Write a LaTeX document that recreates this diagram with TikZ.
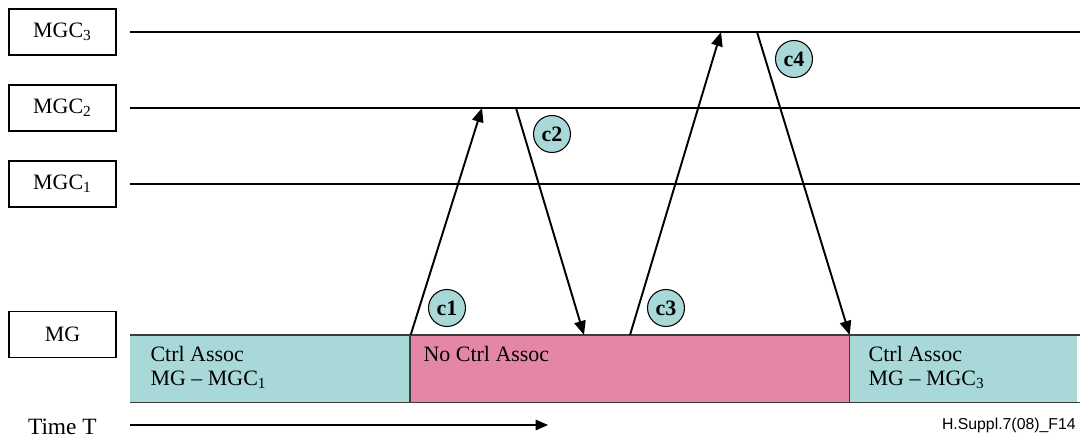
\documentclass[tikz,border=0pt]{standalone}
\usepackage{fontspec}
\setmainfont{Liberation Serif}
\newfontfamily\tagfont{Liberation Sans}
\usepackage{xcolor}
\usepackage{tikz}
\usetikzlibrary{arrows.meta, positioning, calc}
\definecolor{assoccyan}{HTML}{A9D8D9}
\definecolor{noassocpink}{HTML}{E486A7}
\definecolor{bandline}{HTML}{3C3C3C}
\tikzset{
  entity/.style={rectangle, draw=black, line width=0.6pt, fill=white,
    minimum width=2.14cm, minimum height=0.92cm, inner sep=0pt,
    font=\fontsize{12.5}{14}\selectfont},
  lifeline/.style={line width=0.6pt, black},
  band/.style={rectangle, inner sep=0pt, minimum height=1.34cm,
    anchor=north west},
  bandedge/.style={bandline, line width=0.7pt},
  bandtext/.style={anchor=north west, align=left, inner ysep=6pt,
    font=\fontsize{12.5}{13.8}\selectfont},
  msg/.style={-{Triangle[length=8pt, width=6.5pt]}, line width=1.1pt, black},
  tag/.style={circle, draw=black, line width=0.6pt, fill=assoccyan,
    minimum size=0.74cm, inner sep=0pt,
    font=\fontsize{12.5}{14}\selectfont\bfseries},
  timearrow/.style={-{Triangle[length=7pt, width=6pt]}, line width=0.6pt},
}

\begin{document}
\begin{tikzpicture}[x=0.02cm, y=-0.02cm]
  \useasboundingbox (0,0) rectangle (1083,439);

  % entities and their lifelines
  \node[entity] (mgc3) at (62.5,32)  {MGC\textsubscript{3}};
  \node[entity] (mgc2) at (62.5,108) {MGC\textsubscript{2}};
  \node[entity] (mgc1) at (62.5,184) {MGC\textsubscript{1}};
  \node[entity] (mg)   at (62.5,334.5) {MG};

  \coordinate (l3w) at (130,32);  \coordinate (l3e) at (1080,32);
  \coordinate (l2w) at (130,108); \coordinate (l2e) at (1080,108);
  \coordinate (l1w) at (130,184); \coordinate (l1e) at (1080,184);
  \draw[lifeline] (l3w) -- (l3e);
  \draw[lifeline] (l2w) -- (l2e);
  \draw[lifeline] (l1w) -- (l1e);

  % association state of the MG
  \node[band, fill=assoccyan, minimum width=5.6cm]    (ca1)  at (130,335) {};
  \node[band, fill=noassocpink, minimum width=8.78cm] (nocc) at (410,335) {};
  \node[band, fill=assoccyan, minimum width=4.56cm]   (ca3)  at (849,335) {};
  \draw[bandedge] (ca1.north west) -- (l1e |- ca1.north);
  \draw[bandedge] (ca1.south west) -- (l1e |- ca1.south);
  \draw[bandedge] (nocc.north west) -- (nocc.south west);
  \draw[bandedge] (nocc.north east) -- (nocc.south east);

  \node[bandtext, inner xsep=11.5pt] at (ca1.north west) {Ctrl Assoc\\MG -- MGC\textsubscript{1}};
  \node[bandtext, inner xsep=7.5pt]  at (nocc.north west) {No Ctrl Assoc};
  \node[bandtext, inner xsep=11pt]   at (ca3.north west) {Ctrl Assoc\\MG -- MGC\textsubscript{3}};

  % control messages
  \coordinate (c1e) at (482,108);
  \coordinate (c2s) at (516,108);
  \coordinate (c2e) at (584,335);
  \coordinate (c3s) at (630,335);
  \coordinate (c3e) at (721,32);
  \coordinate (c4s) at (757,32);
  \draw[msg] (ca1.north east) -- (c1e);
  \draw[msg] (c2s) -- (c2e);
  \draw[msg] (c3s) -- (c3e);
  \draw[msg] (c4s) -- (nocc.north east);

  \node[tag] (t1) at (447,308) {c1};
  \node[tag] (t2) at (552,134) {c2};
  \node[tag] (t3) at (666,308) {c3};
  \node[tag] (t4) at (794,59)  {c4};

  % time axis
  \node[anchor=base east, inner sep=0pt, font=\fontsize{13.3}{15}\selectfont] (time) at (97,434) {Time T};
  \coordinate (t0) at (130,425);
  \coordinate (t1e) at (548,425);
  \draw[timearrow] (t0) -- (t1e);

  \node[anchor=base east, inner sep=0pt, font=\tagfont\fontsize{9}{10}\selectfont] (fig) at (1076,429) {H.Suppl.7(08)\_F14};
\end{tikzpicture}
\end{document}
